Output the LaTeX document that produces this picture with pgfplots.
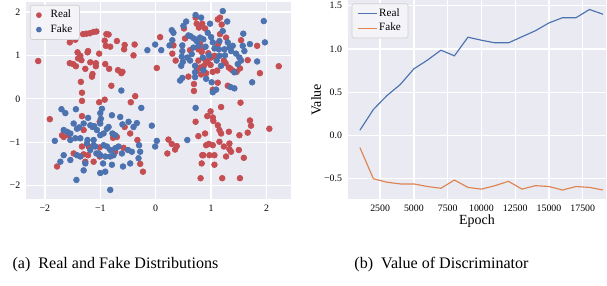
\documentclass[border=0pt]{standalone}
\usepackage{pgfplots}
\pgfplotsset{compat=1.18}
\usepackage{fontspec}
\setmainfont{Liberation Serif}
\definecolor{bgc}{HTML}{EAEAF2}
\definecolor{sred}{HTML}{C44E52}
\definecolor{sblue}{HTML}{4C72B0}
\definecolor{sorange}{HTML}{DD8452}
\pgfplotsset{
  sns/.style={
    scale only axis,
    axis background/.style={fill=bgc},
    axis line style={draw=none},
    tick style={draw=none},
    grid=major,
    grid style={white, line width=0.8pt},
    tick label style={font=\fontsize{6}{7}\selectfont},
    legend style={font=\fontsize{6.8}{7}\selectfont, fill=bgc!50!white, draw=black!18, rounded corners=1pt, inner xsep=3.5pt, inner ysep=2pt, nodes={inner sep=0.9pt}, row sep=0.8pt, /tikz/every even column/.append style={column sep=1.5pt}},
    legend cell align=left,
  }
}
\begin{document}
\begin{tikzpicture}
\useasboundingbox (0,0) rectangle (370pt,-173.74pt);
\begin{axis}[sns,
  at={(15.85pt,-1.22pt)}, anchor=north west,
  width=161.5pt, height=120.1pt,
  xmin=-2.34, xmax=2.44, ymin=-2.31, ymax=2.23,
  xtick={-2,-1,0,1,2}, xticklabels={−2,−1,0,1,2},
  ytick={-2,-1,0,1,2}, yticklabels={−2,−1,0,1,2},
  legend style={at={(0.015,0.985)}, anchor=north west},
]
\addplot[only marks, mark=*, mark size=1.75pt, sred, mark options={draw=none, fill=sred},
  legend image code/.code={\node[circle, fill=sred, draw=none, inner sep=0pt, minimum size=3.5pt] at (4pt,0pt) {}; \node[inner sep=0pt, minimum width=8pt, minimum height=3.5pt, draw=none, fill=none] at (4pt,0pt) {};}] coordinates {
(-2.12,0.87) (-1.55,1.30) (-1.45,1.36) (-1.31,1.49) (-1.25,1.50) (-1.19,1.51) (-1.12,1.54) (-1.07,1.55) (-0.89,1.49) (-0.85,1.48) (-0.92,1.34) (-0.70,1.33) (-0.90,1.22) (-0.82,1.20) (-0.56,1.24) (-0.38,1.25) (-0.57,1.14) (-0.40,1.00) (-1.41,1.07) (-1.36,0.99) (-1.34,0.89) (-1.22,1.10) (-1.23,1.07) (-1.02,1.04) (-1.55,0.82) (-1.49,0.80) (-1.44,0.75) (-1.27,0.69) (-1.18,0.84) (-1.08,0.82) (-1.08,0.75) (-1.14,0.57) (-1.15,0.51) (-0.91,0.80) (-0.84,0.69) (-0.68,0.66) (-0.60,0.62) (-0.62,0.59) (-0.80,0.30) (-1.35,0.39) (-1.33,0.14) (-1.33,-0.05) (-1.02,-0.08) (-0.92,-0.02) (-0.45,-0.08) (-0.37,0.06) (0.02,0.71) (0.08,1.42) (-1.40,0.93)
(0.32,1.23) (0.30,1.04) (0.36,0.88) (0.51,1.62) (0.53,1.39) (0.59,0.51) (0.69,0.34) (0.69,0.18) (0.72,1.87) (0.74,1.73) (0.84,1.73) (0.78,1.64) (0.89,1.62) (0.80,1.26) (0.77,1.14) (0.83,1.08) (0.77,0.88) (0.80,0.72) (0.87,0.76) (0.90,0.88) (0.94,0.84) (0.99,0.78) (0.91,0.59) (0.82,0.56) (0.74,0.65) (1.03,0.62) (1.11,0.65) (1.06,0.99) (1.09,1.18) (1.13,1.27) (1.16,1.49) (1.16,1.87) (1.12,1.83) (1.19,1.71) (1.03,0.21) (1.12,0.37) (1.23,0.88) (1.26,0.82) (1.27,1.41) (1.32,0.72) (1.35,0.69) (1.39,0.65) (1.46,0.62) (1.54,1.35) (1.52,0.70) (1.66,0.89) (1.83,1.22) (1.88,0.59) (2.22,0.75) (1.30,0.30) (0.83,1.14) (0.95,1.05) (0.62,1.12) (1.00,0.95)
(-1.91,-0.47) (-1.69,-0.84) (-1.66,-0.88) (-1.57,-0.84) (-1.33,-0.40) (-1.30,-0.72) (-1.33,-1.10) (-1.21,-1.10) (-1.48,-1.26) (-1.30,-1.28) (-1.27,-1.45) (-1.12,-1.45) (-1.01,-0.53) (-1.01,-1.12) (-1.01,-1.33) (-0.77,-0.90) (-0.70,-0.88) (-0.73,-1.22) (-0.56,-0.65) (-0.58,-1.13) (-0.46,-0.80) (-0.33,-0.95) (-0.28,-1.50) (-0.23,-1.68) (-1.78,-1.56) (-1.22,-1.30)
(0.21,-1.26) (0.23,-0.94) (0.29,-1.04) (0.35,-1.17) (0.38,-1.09) (0.72,-0.53) (0.77,-0.86) (0.81,-1.83) (0.83,-1.49) (0.86,-1.30) (0.89,-0.80) (0.93,-0.40) (0.99,-0.29) (1.03,-0.43) (1.03,-1.07) (1.04,-0.51) (1.06,-1.52) (1.06,-1.30) (1.12,-0.61) (1.15,-0.72) (1.18,-0.19) (1.15,-0.99) (1.18,-0.80) (1.20,-1.83) (1.23,-1.10) (1.27,-1.33) (1.33,-1.03) (1.33,-1.16) (1.36,-1.22) (1.32,-0.76) (1.50,-1.18) (1.51,-0.84) (1.53,-0.09) (1.52,-1.83) (1.59,-1.36) (1.66,-0.78) (1.70,-0.50) (1.72,-0.62) (2.05,-0.69) (0.91,-1.07) (0.96,-1.04) (0.97,-1.30) (0.84,-1.30)
};
\addlegendentry{Real}
\addplot[only marks, mark=*, mark size=1.75pt, sblue, mark options={draw=none, fill=sblue},
  legend image code/.code={\node[circle, fill=sblue, draw=none, inner sep=0pt, minimum size=3.5pt] at (4pt,0pt) {}; \node[inner sep=0pt, minimum width=8pt, minimum height=3.5pt, draw=none, fill=none] at (4pt,0pt) {};}] coordinates {
(-0.62,0.19) (-0.15,1.12) (-0.01,1.25) (0.10,1.12)
(0.25,1.23) (0.29,1.58) (0.32,1.52) (0.30,1.35) (0.48,1.23) (0.48,1.10) (0.47,0.97) (0.49,0.85) (0.46,0.76) (0.44,0.42) (0.48,0.48) (0.50,1.68) (0.55,1.78) (0.59,1.46) (0.63,1.44) (0.69,1.39) (0.71,0.61) (0.71,0.50) (0.72,1.93) (0.82,1.87) (0.98,1.73) (0.94,1.52) (1.00,1.42) (1.03,1.30) (0.86,1.37) (0.80,1.41) (0.77,1.22) (0.74,1.33) (0.68,1.18) (0.65,1.03) (0.57,0.95) (0.62,0.88) (0.71,0.76) (0.86,0.66) (0.91,0.46) (1.01,0.38) (1.03,0.15) (1.09,0.21) (1.18,0.76) (1.15,0.99) (1.14,1.14) (1.21,2.02) (1.29,1.78) (1.21,1.56) (1.15,1.33) (1.24,1.14) (1.30,1.30) (1.33,1.18) (1.36,1.10) (1.39,1.22) (1.45,1.04) (1.51,0.95) (1.54,0.88) (1.48,0.80) (1.42,0.61) (1.35,0.27) (1.42,0.24) (1.58,1.50) (1.60,1.10) (1.57,1.22) (1.70,1.26) (1.74,0.38) (1.83,0.86) (1.95,1.79) (1.97,1.30) (0.90,1.20) (1.06,1.16) (0.96,1.00) (1.10,0.88) (1.25,1.00) (0.85,0.95)
(-1.70,-0.24) (-1.63,-0.33) (-1.44,-0.24) (-1.82,-0.97) (-1.66,-0.72) (-1.60,-0.76) (-1.54,-0.80) (-1.48,-0.57) (-1.42,-0.69) (-1.38,-0.66) (-1.30,-0.57) (-1.22,-0.44) (-1.18,-0.61) (-1.14,-0.65) (-1.11,-0.63) (-1.06,-0.72) (-1.00,-0.57) (-0.99,-0.46) (-0.97,-0.23) (-1.00,-0.33) (-0.94,-0.80) (-0.88,-0.69) (-0.85,-0.65) (-0.79,-0.38) (-0.78,-0.80) (-0.73,-0.84) (-0.64,-0.42) (-0.60,-0.59) (-0.49,-0.53) (-0.40,-0.65) (-0.34,-0.56) (-0.26,-0.21) (-0.07,-0.62) (0.02,-0.97) (-0.01,-1.10) (-0.30,-1.07) (-0.28,-1.22) (-0.31,-1.37) (-0.43,-1.22) (-0.50,-1.18) (-0.46,-1.49) (-0.61,-1.26) (-0.59,-1.56) (-0.76,-1.30) (-0.79,-1.52) (-0.82,-2.10) (-0.91,-1.68) (-1.00,-1.71) (-0.95,-1.49) (-1.03,-1.26) (-1.09,-1.10) (-1.18,-1.18) (-1.24,-1.03) (-1.27,-1.49) (-1.30,-1.65) (-1.36,-1.33) (-1.42,-1.30) (-1.43,-1.87) (-1.54,-1.41) (-1.72,-1.45) (-1.66,-1.30) (-1.54,-0.95) (-1.45,-0.91) (-1.36,-0.91) (-1.23,-0.95) (-1.12,-0.95) (-1.00,-0.84) (-0.94,-1.07) (-0.88,-1.10) (-0.82,-1.18) (-0.73,-1.14) (-0.67,-1.10) (-1.07,-1.26) (-1.00,-1.30) (-0.91,-1.33) (-0.82,-1.33) (-1.12,-1.07) (0.72,-0.21) (0.57,-0.95)
};
\addlegendentry{Fake}
\end{axis}
\begin{axis}[sns,
  at={(211.96pt,-0.3pt)}, anchor=north west,
  width=157.5pt, height=121pt,
  xmin=100, xmax=19230, ymin=-0.734, ymax=1.559,
  scaled x ticks=false,
  xtick={2500,5000,7500,10000,12500,15000,17500},
  xticklabels={2500,5000,7500,10000,12500,15000,17500},
  ytick={-0.5,0,0.5,1,1.5}, yticklabels={−0.5,0.0,0.5,1.0,1.5},
  xlabel={Epoch}, ylabel={Value},
  label style={font=\fontsize{8.5}{10}\selectfont},
  xlabel style={yshift=4.5pt},
  ylabel style={yshift=-5pt},
  legend style={at={(0.015,0.985)}, anchor=north west},
  legend image code/.code={\draw[#1] (0pt,0pt) -- (11.5pt,0pt);},
]
\addplot[sblue, line width=0.7pt] coordinates {
(1000,0.06) (2000,0.30) (3000,0.46) (4000,0.59) (5000,0.77) (6000,0.87) (7000,0.985) (8000,0.92) (9000,1.135) (10000,1.10) (11000,1.07) (12000,1.07) (13000,1.14) (14000,1.21) (15000,1.30) (16000,1.36) (17000,1.36) (18000,1.455) (19000,1.40)
};
\addlegendentry{Real}
\addplot[sorange, line width=0.7pt] coordinates {
(1000,-0.14) (2000,-0.50) (3000,-0.54) (4000,-0.56) (5000,-0.56) (6000,-0.59) (7000,-0.61) (8000,-0.515) (9000,-0.60) (10000,-0.62) (11000,-0.58) (12000,-0.53) (13000,-0.62) (14000,-0.58) (15000,-0.59) (16000,-0.63) (17000,-0.59) (18000,-0.60) (19000,-0.63)
};
\addlegendentry{Fake}
\end{axis}
\node[font=\fontsize{9.8}{11}\selectfont, anchor=base] at (70.4pt,-163.4pt) {(a)\enspace Real and Fake Distributions};
\node[font=\fontsize{9.8}{11}\selectfont, anchor=base] at (269.1pt,-163.4pt) {(b)\enspace Value of Discriminator};
\end{tikzpicture}
\end{document}
